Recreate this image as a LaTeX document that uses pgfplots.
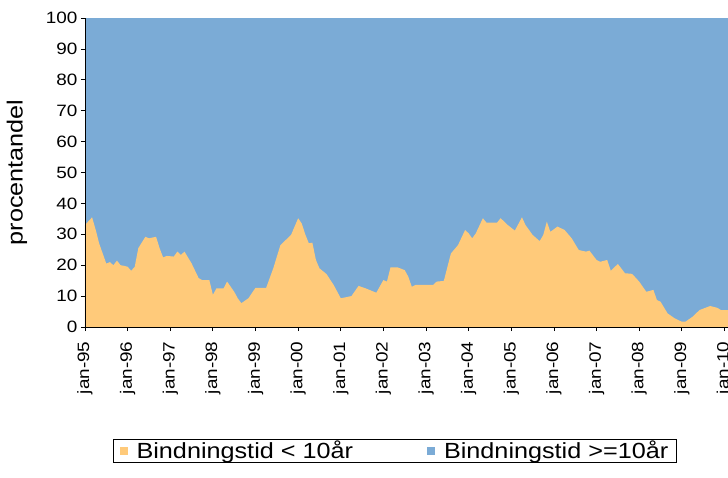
\documentclass[border=0pt]{standalone}
\usepackage{pgfplots}
\pgfplotsset{compat=1.18}
\usepackage{fontspec}
\setmainfont{Liberation Sans}[FakeStretch=1.15]
\definecolor{myorange}{RGB}{255,202,122}
\definecolor{myblue}{RGB}{123,171,214}
\begin{document}
\begin{tikzpicture}
\begin{axis}[
  scale only axis,
  width=643bp, height=309bp,
  xmin=0, xmax=181, ymin=0, ymax=100,
  axis lines*=left,
  axis line style={black, line width=0.8pt},
  tick align=outside,
  major tick length=4bp,
  tick style={black, line width=0.8pt},
  ytick={0,10,...,100},
  xtick={0,12,...,180},
  xticklabels={jan-95,jan-96,jan-97,jan-98,jan-99,jan-00,jan-01,jan-02,jan-03,jan-04,jan-05,jan-06,jan-07,jan-08,jan-09,jan-10},
  x tick label style={rotate=90, anchor=east, font=\fontsize{16.5}{19}\selectfont},
  xticklabel shift=7bp,
  y tick label style={font=\fontsize{16.5}{19}\selectfont},
  /pgf/number format/assume math mode=true,
  ylabel={procentandel},
  ylabel style={font=\fontsize{22}{24}\selectfont},
  ylabel shift=12bp,
  axis on top,
  legend columns=2,
  legend style={at={(0.482,-0.40)}, anchor=center, draw=black, line width=0.6pt,
    font=\fontsize{22}{24}\selectfont, /tikz/every even column/.append style={column sep=72bp},
    inner xsep=6bp, inner ysep=0bp},
  legend cell align=left,
]
\addplot[fill=myblue, draw=none, forget plot] coordinates {(0,100) (181,100)} \closedcycle;
\addplot[fill=myorange, draw=none, forget plot] coordinates {
(0,33) (2,35.5) (3,31.5) (4,27) (6,20.5) (7,21) (8,20) (9,21.5) (10,20) (11,19.8)
(12,19.5) (13,18.2) (14,19.5) (15,25.5) (17,29.2) (18,28.7) (20,29.2) (21,25.5) (22,22.5) (23,23)
(25,22.8) (26,24.4) (27,23.3) (28,24.4) (30,20.6) (32,15.8) (33,15.2) (35,15.2) (36,10.4) (37,12.5)
(39,12.5) (40,14.7) (42,11.4) (43,9.3) (44,7.7) (46,9.3) (48,12.7) (51,12.7) (53,19) (55,26.5)
(58,29.8) (60,35.2) (61,33.5) (62,30) (63,27.1) (64,27.3) (65,21.7) (66,19) (68,17.1) (70,13.6)
(72,9.3) (75,10) (77,13.3) (79,12.5) (82,11.1) (84,15.2) (85,14.7) (86,19.3) (88,19.3) (90,18.4)
(91,16.3) (92,13) (93,13.6) (98,13.6) (99,14.7) (101,14.9) (103,23.8) (105,26.5) (107,31.4) (108,30.3)
(109,28.7) (110,30.3) (112,35.2) (113,33.8) (116,33.8) (117,35.2) (118,34.1) (119,33) (121,31.2) (123,35.5)
(124,33) (126,29.8) (128,27.8) (129,29.8) (130,34.1) (131,30.8) (133,32.5) (135,31.4) (137,28.7) (139,24.9)
(141,24.4) (142,24.7) (144,21.7) (145,21.1) (147,21.7) (148,18.2) (150,20.4) (152,17.4) (154,17.2) (156,14.7)
(158,11.4) (160,12) (161,8.7) (162,8.2) (164,4.4) (166,2.8) (168,1.7) (169,1.7) (171,3.3) (173,5.5)
(176,6.8) (178,6.2) (179,5.5) (181,5.5)
} \closedcycle;
\addlegendimage{legend image code/.code={\path[draw=none, fill=myorange] (0bp,-4bp) rectangle (8bp,4bp); \path[draw=none, fill=none] (0bp,0bp) rectangle (15bp,0.1bp);}}
\addlegendentry{Bindningstid < 10år}
\addlegendimage{legend image code/.code={\path[draw=none, fill=myblue] (0bp,-4bp) rectangle (8bp,4bp); \path[draw=none, fill=none] (0bp,0bp) rectangle (15bp,0.1bp);}}
\addlegendentry{Bindningstid >=10år}
\end{axis}
\pgfresetboundingbox
\path ([xshift=-85bp,yshift=-151bp]current axis.south west) rectangle ([yshift=18bp]current axis.north east);
\end{tikzpicture}
\end{document}
